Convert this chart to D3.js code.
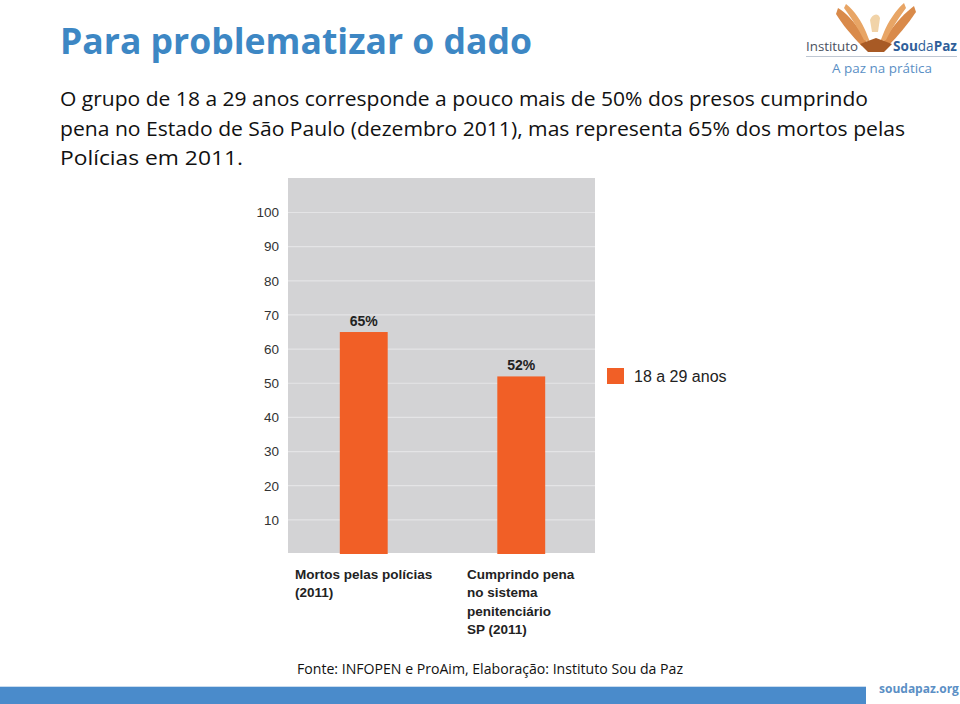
<!DOCTYPE html>
<html><head><meta charset="utf-8">
<script src="https://cdn.jsdelivr.net/npm/d3@7"></script>
<style>body{margin:0;background:#fff}svg{display:block}</style>
</head><body>
<script>
const categories = [["Mortos pelas polícias","(2011)"],["Cumprindo pena","no sistema","penitenciário","SP (2011)"]];
const values = [65, 52];
const valueLabels = ["65%", "52%"];
const tickValues = [10,20,30,40,50,60,70,80,90,100];
const seriesName = "18 a 29 anos";
const bodyLines = ["O grupo de 18 a 29 anos corresponde a pouco mais de 50% dos presos cumprindo",
  "pena no Estado de São Paulo (dezembro 2011), mas representa 65% dos mortos pelas",
  "Polícias em 2011."];

const W = 960, H = 704;
const svg = d3.select("body").append("svg").attr("width", W).attr("height", H);
const orange = "#f15f26";

// Title
svg.append("text").attr("x", 60).attr("y", 54).attr("font-family", "Open Sans, sans-serif")
  .attr("font-weight", "bold").attr("font-size", 36).attr("fill", "#3d87c4")
  .attr("textLength", 472).attr("lengthAdjust", "spacingAndGlyphs").text("Para problematizar o dado");

// Body text
const bodyW = [808, 845, 183];
bodyLines.forEach((l, i) => {
  svg.append("text").attr("x", 60).attr("y", 106 + i * 29.5).attr("font-family", "Open Sans, sans-serif")
    .attr("font-size", 20).attr("fill", "#111").attr("textLength", bodyW[i])
    .attr("lengthAdjust", "spacingAndGlyphs").text(l);
});

// Chart panel
const panel = {x0: 288, x1: 595, y0: 178, y1: 553};
svg.append("rect").attr("x", panel.x0).attr("y", panel.y0).attr("width", panel.x1 - panel.x0)
  .attr("height", panel.y1 - panel.y0).attr("fill", "#d3d3d5");

const y = d3.scaleLinear().domain([0, 100]).range([554, 212.5]);
const x = d3.scaleBand().domain(d3.range(categories.length)).range([285, 600])
  .paddingInner(0.696).paddingOuter(0.348);

// gridlines
svg.append("g").selectAll("line").data(tickValues).join("line")
  .attr("x1", panel.x0).attr("x2", panel.x1)
  .attr("y1", d => y(d)).attr("y2", d => y(d))
  .attr("stroke", "#e4e4e6").attr("stroke-width", 1.2);

// y axis labels
const yAxis = d3.axisLeft(y).tickValues(tickValues).tickSize(0).tickPadding(0);
const ga = svg.append("g").attr("transform", "translate(279,0)").call(yAxis);
ga.select(".domain").remove();
ga.selectAll("text").attr("font-family", "Liberation Sans, Arial, sans-serif").attr("font-size", 13.5).attr("fill", "#333");

// bars
svg.append("g").selectAll("rect").data(values).join("rect")
  .attr("x", (d, i) => x(i)).attr("width", x.bandwidth())
  .attr("y", d => y(d)).attr("height", d => y(0) - y(d)).attr("fill", orange);

// value labels
svg.append("g").selectAll("text").data(values).join("text")
  .attr("x", (d, i) => x(i) + x.bandwidth() / 2).attr("y", d => y(d) - 6)
  .attr("text-anchor", "middle").attr("font-family", "Liberation Sans, Arial, sans-serif")
  .attr("font-weight", "bold").attr("font-size", 14).attr("fill", "#222")
  .text((d, i) => valueLabels[i]);

// category labels
const catX = [295, 467];
categories.forEach((lines, i) => {
  const t = svg.append("text").attr("font-family", "Liberation Sans, Arial, sans-serif")
    .attr("font-weight", "bold").attr("font-size", 13.5).attr("fill", "#222");
  lines.forEach((l, j) => t.append("tspan").attr("x", catX[i]).attr("y", 579 + j * 18.3).text(l));
});

// legend
svg.append("rect").attr("x", 607).attr("y", 368).attr("width", 17).attr("height", 16).attr("fill", orange);
svg.append("text").attr("x", 634).attr("y", 382).attr("font-family", "Liberation Sans, Arial, sans-serif")
  .attr("font-size", 16).attr("fill", "#222").text(seriesName);

// footer
svg.append("text").attr("x", 490).attr("y", 674).attr("text-anchor", "middle")
  .attr("font-family", "Open Sans, sans-serif").attr("font-size", 15).attr("fill", "#111")
  .attr("textLength", 386).attr("lengthAdjust", "spacingAndGlyphs")
  .text("Fonte: INFOPEN e ProAim, Elaboração: Instituto Sou da Paz");
svg.append("line").attr("x1", 0).attr("x2", 866).attr("y1", 686.5).attr("y2", 686.5).attr("stroke", "#c9dcef");
svg.append("rect").attr("x", 0).attr("y", 687).attr("width", 866).attr("height", 17).attr("fill", "#4a8bcb");
svg.append("text").attr("x", 879).attr("y", 693).attr("font-family", "Open Sans, sans-serif")
  .attr("font-weight", "bold").attr("font-size", 12).attr("fill", "#5b8fc5")
  .text("soudapaz.org");

// logo
const logo = svg.append("g");
logo.append("path").attr("d", "M838,8 C845,12 855,22 862,34 L868,44 L862,46 C852,36 842,24 836,14 Z").attr("fill", "#d98a4a");
logo.append("path").attr("d", "M846,4 C854,10 862,22 866,32 L870,42 L864,40 C858,28 850,16 844,8 Z").attr("fill", "#e8a565");
logo.append("path").attr("d", "M914,6 C906,12 896,22 888,34 L882,44 L888,46 C898,36 908,24 916,12 Z").attr("fill", "#d98a4a");
logo.append("path").attr("d", "M904,3 C896,10 888,22 884,32 L880,42 L886,40 C892,28 900,16 906,8 Z").attr("fill", "#e8a565");
logo.append("path").attr("d", "M860,44 L876,38 L892,44 L884,52 L868,52 Z").attr("fill", "#a85a25");
logo.append("path").attr("d", "M870,20 C872,14 878,12 880,18 L878,32 L872,32 Z").attr("fill", "#f1d3a8");
logo.append("text").attr("x", 806).attr("y", 51).attr("font-family", "Open Sans, sans-serif")
  .attr("font-size", 13).attr("fill", "#4a5160").attr("textLength", 52).attr("lengthAdjust", "spacingAndGlyphs").text("Instituto");
const sp = logo.append("text").attr("x", 893).attr("y", 51).attr("font-family", "Open Sans, sans-serif")
  .attr("font-size", 14).attr("fill", "#2f5f9a").attr("textLength", 64).attr("lengthAdjust", "spacingAndGlyphs");
sp.append("tspan").attr("font-weight", "bold").text("Sou");
sp.append("tspan").text("da");
sp.append("tspan").attr("font-weight", "bold").text("Paz");
logo.append("line").attr("x1", 806).attr("x2", 957).attr("y1", 56.5).attr("y2", 56.5).attr("stroke", "#bfc7d2");
logo.append("text").attr("x", 832).attr("y", 73).attr("font-family", "Open Sans, sans-serif")
  .attr("font-size", 13).attr("fill", "#5a8fc5").attr("textLength", 100).attr("lengthAdjust", "spacingAndGlyphs").text("A paz na prática");
</script>
</body></html>
